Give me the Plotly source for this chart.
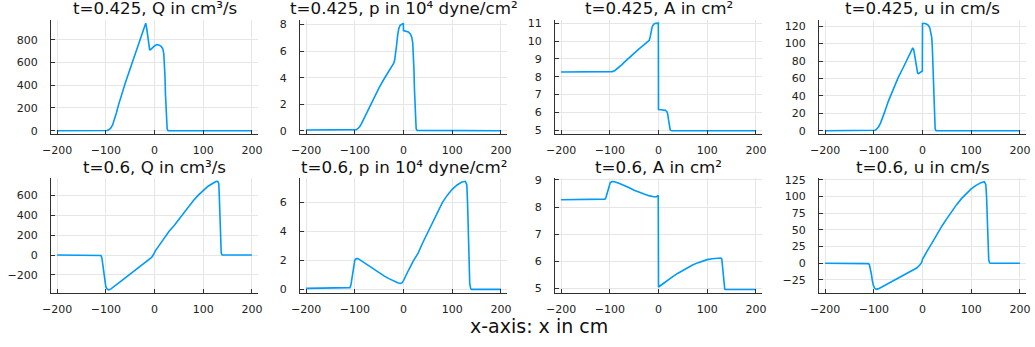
import plotly.graph_objects as go

# ---------------- data ----------------
# t = 0.425
x_Q1 = [-200, -100, -97, -94, -90, -86, -82, -78, -74, -70, -60, -50, -40, -30, -24, -20, -18, -16, -14, -12, -10, -8, -5, 0, 5, 10, 14, 17, 19, 20.5, 21.5, 22.5, 23.5, 24.5, 26, 28, 200]
y_Q1 = [0, 0, 2, 8, 22, 50, 100, 160, 225, 285, 420, 545, 670, 795, 880, 930, 945, 900, 820, 740, 712, 712, 725, 745, 757, 752, 740, 720, 680, 600, 480, 320, 170, 70, 15, 0, 0]

x_p1 = [-200, -100, -97, -94, -90, -86, -82, -78, -70, -60, -50, -40, -30, -24, -20, -18, -16, -14, -12, -10, -7, -4, -0.3, 0, 5, 10, 14, 17, 19, 20.5, 21.5, 22.5, 23.5, 24.5, 26, 28, 200]
y_p1 = [0.05, 0.05, 0.08, 0.15, 0.3, 0.55, 0.85, 1.2, 1.85, 2.55, 3.25, 3.9, 4.45, 4.8, 5.1, 5.35, 5.8, 6.5, 7.2, 7.65, 7.95, 8.05, 8.1, 7.55, 7.5, 7.45, 7.3, 7.05, 6.6, 5.8, 4.6, 3.1, 1.7, 0.7, 0.15, 0.02, 0.0]

x_A1 = [-200, -100, -95, -90, -85, -80, -75, -70, -60, -50, -40, -30, -22, -19, -17, -15, -13, -10, -6, -0.3, 0, 5, 10, 14, 17, 19, 20.5, 21.5, 22.5, 24, 26, 28, 200]
y_A1 = [8.27, 8.27, 8.29, 8.34, 8.44, 8.56, 8.68, 8.82, 9.08, 9.33, 9.57, 9.79, 9.95, 10.05, 10.25, 10.55, 10.8, 10.95, 11.0, 11.01, 6.15, 6.14, 6.13, 6.11, 6.05, 5.9, 5.6, 5.35, 5.15, 5.02, 4.97, 4.96, 4.96]

x_u1 = [-200, -100, -97, -94, -90, -86, -83, -78, -70, -60, -50, -40, -30, -24, -20, -18, -16, -14, -12, -10, -8, -5, -2, -0.3, 0, 3, 8, 12, 15, 17, 19, 20, 21, 22, 23, 24, 25, 26, 28, 200]
y_u1 = [0, 0, 0.5, 2, 4.6, 9, 13, 21, 34, 48, 61, 72, 83, 90, 95, 93, 86, 77, 69, 66, 65.5, 66.5, 68, 68.5, 123, 123.4, 122.5, 121, 118, 114, 107, 98, 82, 60, 35, 16, 6, 2, 0, 0]

# t = 0.6
x_Q2 = [-200, -112, -110, -108, -106, -104, -102, -100, -97, -94, -90, -80, -70, -60, -50, -40, -30, -20, -12, -6, -2, 0, 2, 10, 20, 26, 30, 40, 50, 60, 70, 80, 90, 100, 110, 120, 127, 130, 132, 133, 134, 135, 136, 137, 139, 200]
y_Q2 = [0, 0, -5, -30, -100, -200, -280, -320, -345, -352, -345, -310, -270, -230, -192, -155, -118, -85, -55, -25, 5, 30, 45, 100, 170, 215, 240, 295, 360, 430, 490, 550, 605, 650, 695, 725, 745, 743, 720, 600, 420, 220, 80, 20, 0, 0]

x_p2 = [-200, -112, -110, -108, -106, -104, -102, -100, -97, -94, -90, -80, -70, -60, -50, -40, -30, -20, -12, -7, -3, 0, 5, 10, 20, 30, 40, 50, 60, 70, 80, 90, 100, 110, 120, 127, 130, 131.5, 133, 134.5, 136, 138, 140, 200]
y_p2 = [0.07, 0.07, 0.12, 0.3, 0.7, 1.3, 1.8, 2.02, 2.12, 2.12, 2.05, 1.82, 1.6, 1.36, 1.14, 0.93, 0.74, 0.57, 0.45, 0.41, 0.45, 0.6, 0.9, 1.3, 1.95, 2.5, 3.25, 3.95, 4.7, 5.4, 6.0, 6.5, 6.9, 7.2, 7.4, 7.45, 7.2, 6.0, 3.8, 1.6, 0.4, 0.05, 0.0, 0.0]

x_A2 = [-200, -112, -110, -108, -106, -104, -102, -99, -95, -90, -80, -70, -60, -50, -40, -30, -20, -10, -4, -0.5, 0, 10, 20, 30, 40, 50, 60, 70, 80, 90, 100, 110, 120, 128, 130, 131.5, 133, 134.5, 136, 138, 200]
y_A2 = [8.27, 8.27, 8.29, 8.35, 8.48, 8.65, 8.8, 8.9, 8.94, 8.93, 8.87, 8.8, 8.71, 8.62, 8.55, 8.48, 8.42, 8.38, 8.38, 8.43, 5.05, 5.18, 5.32, 5.44, 5.56, 5.67, 5.77, 5.86, 5.94, 6.01, 6.06, 6.09, 6.11, 6.12, 6.08, 5.8, 5.35, 5.05, 4.97, 4.96, 4.96]

x_u2 = [-200, -113, -111, -109, -107, -105, -103, -101, -98, -95, -90, -80, -70, -60, -50, -40, -30, -20, -12, -6, -2, 0, 2, 10, 20, 30, 40, 50, 60, 70, 80, 90, 100, 110, 120, 127, 130, 131.5, 133, 134.5, 136, 138, 140, 200]
y_u2 = [0, 0, -0.5, -2, -7, -16, -26, -33, -37.5, -39, -38, -34, -30, -26, -22.5, -18.5, -14.5, -10.5, -7, -3, 1, 6, 9, 19, 31, 44, 56, 67, 78, 88, 97, 105, 111.5, 117, 121, 122.5, 118, 100, 60, 25, 5, 0.5, 0, 0]

titles = ["t=0.425, Q in cm³/s", "t=0.425, p in 10⁴ dyne/cm²", "t=0.425, A in cm²", "t=0.425, u in cm/s",
          "t=0.6, Q in cm³/s", "t=0.6, p in 10⁴ dyne/cm²", "t=0.6, A in cm²", "t=0.6, u in cm/s"]

x_ticks = [-200, -100, 0, 100, 200]
y_ticks = [
    [0, 200, 400, 600, 800],
    [0, 2, 4, 6, 8],
    [5, 6, 7, 8, 9, 10, 11],
    [0, 20, 40, 60, 80, 100, 120],
    [-200, 0, 200, 400, 600],
    [0, 2, 4, 6],
    [5, 6, 7, 8, 9],
    [-25, 0, 25, 50, 75, 100, 125],
]
y_ranges = [
    [-29, 973], [-0.25, 8.35], [4.78, 11.19], [-3.8, 127.1],
    [-381, 775], [-0.23, 7.66], [4.84, 9.06], [-44.1, 127.5],
]
x_label = "x-axis: x in cm"

series = [(x_Q1, y_Q1), (x_p1, y_p1), (x_A1, y_A1), (x_u1, y_u1),
          (x_Q2, y_Q2), (x_p2, y_p2), (x_A2, y_A2), (x_u2, y_u2)]

# ---------------- layout ----------------
W, H = 1035, 347
col_px = [(51, 258), (300, 507), (555, 762), (819, 1026)]
row_px = [(20, 134), (178.3, 292.7)]

LINE = "#009AFA"
AXC = "#303030"
GRID = "#e6e6e6"
FONT = "DejaVu Sans"

fig = go.Figure()
layout = dict(
    template="none",
    width=W, height=H,
    margin=dict(l=0, r=0, t=0, b=0, autoexpand=False),
    paper_bgcolor="white", plot_bgcolor="white",
    showlegend=False,
    font=dict(family=FONT, size=11, color="#222222"),
)
annotations = []
for i, (xs, ys) in enumerate(series):
    r, c = divmod(i, 4)
    n = i + 1
    xa = "x" if n == 1 else f"x{n}"
    ya = "y" if n == 1 else f"y{n}"
    fig.add_trace(go.Scatter(x=xs, y=ys, mode="lines", xaxis=xa, yaxis=ya,
                             line=dict(color=LINE, width=1.6), hoverinfo="skip"))
    x0, x1 = col_px[c]
    y0, y1 = row_px[r]
    layout[f"xaxis{n}" if n > 1 else "xaxis"] = dict(
        domain=[x0 / W, x1 / W], anchor=ya, range=[-212.5, 212.5],
        automargin=False,
        tickvals=x_ticks, ticks="inside", ticklen=4, tickcolor=AXC,
        showline=True, linecolor=AXC, linewidth=1.3,
        showgrid=True, gridcolor=GRID, gridwidth=1, zeroline=False,
        tickfont=dict(family=FONT, size=11, color="#222222"),
        ticklabelstandoff=6,
    )
    layout[f"yaxis{n}" if n > 1 else "yaxis"] = dict(
        domain=[1 - y1 / H, 1 - y0 / H], anchor=xa, range=y_ranges[i],
        automargin=False,
        tickvals=y_ticks[i], ticks="inside", ticklen=4, tickcolor=AXC,
        showline=True, linecolor=AXC, linewidth=1.3,
        showgrid=True, gridcolor=GRID, gridwidth=1, zeroline=False,
        tickfont=dict(family=FONT, size=11, color="#222222"),
        ticklabelstandoff=10,
    )
    base = 14.8 if r == 0 else 174.0
    annotations.append(dict(
        text=titles[i], xref="paper", yref="paper",
        x=(x0 + x1) / 2 / W, y=1 - (base + 4.2) / H,
        xanchor="center", yanchor="bottom", showarrow=False, borderpad=0,
        font=dict(family=FONT, size=16.7, color="#111111"),
    ))

annotations.append(dict(
    text=x_label, xref="paper", yref="paper",
    x=538.5 / W, y=1 - 337.7 / H, xanchor="center", yanchor="bottom",
    showarrow=False, borderpad=0, font=dict(family=FONT, size=19, color="#111111"),
))
layout["annotations"] = annotations
fig.update_layout(**layout)
fig.write_html(
    "out.html",
    config={"displayModeBar": False},
    post_script="document.body.style.margin='0';document.body.style.overflow='hidden';",
)
